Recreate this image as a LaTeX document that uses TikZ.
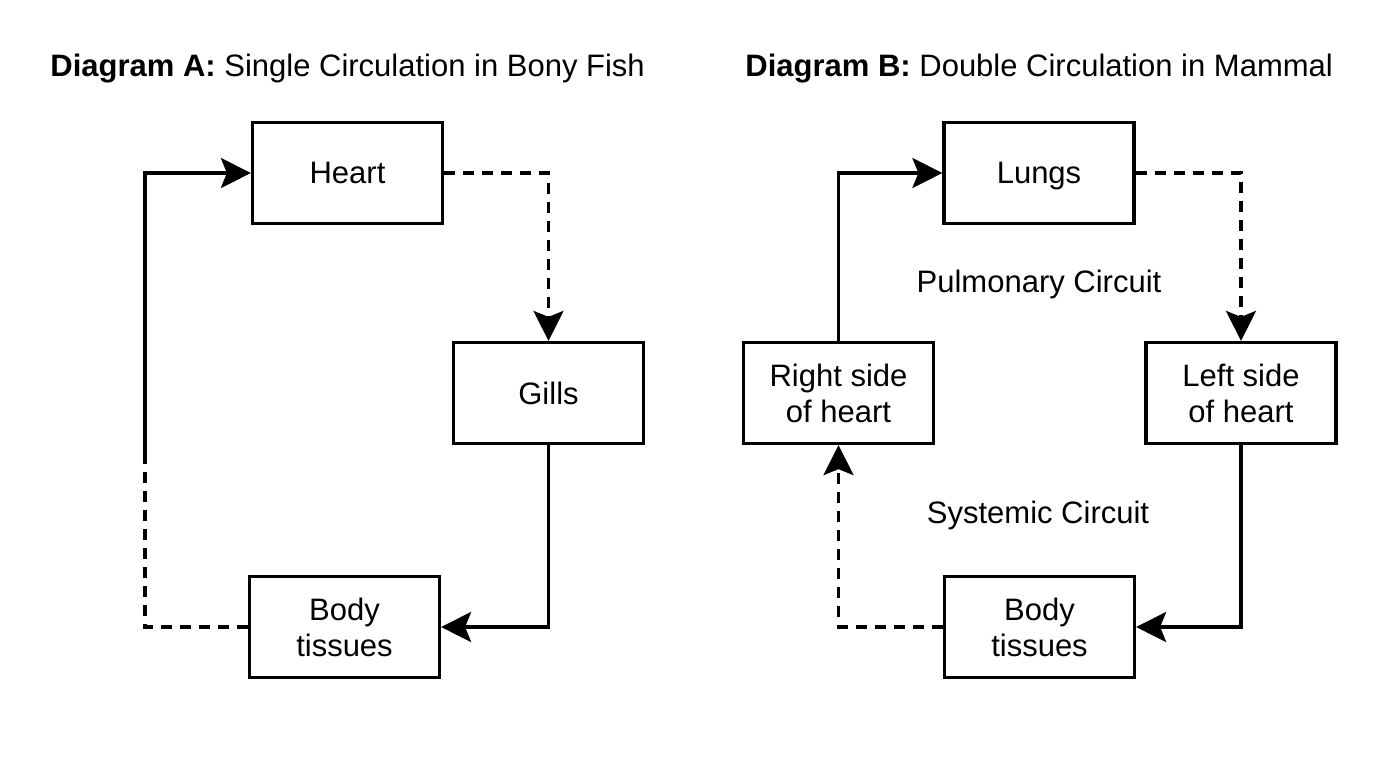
\documentclass[tikz,border=0pt]{standalone}
\usepackage{fontspec}
\setmainfont{Liberation Sans}
\usetikzlibrary{arrows.meta}
\tikzset{
  box/.style={draw, line width=1.6pt, minimum width=95pt, minimum height=50.5pt, inner sep=0pt, align=center, font=\fontsize{15.5}{18}\selectfont},
  lab/.style={font=\fontsize{15.5}{18}\selectfont, inner sep=0pt},
  conn/.style={line width=1.6pt},
  arr/.style={conn, -{Stealth[length=15pt,width=15pt,inset=3pt]}},
  dsh/.style={dash pattern=on 5.5pt off 4pt},
}
\begin{document}
\begin{tikzpicture}[x=0.5pt,y=-0.5pt]
\path[use as bounding box, fill=white] (0,0) rectangle (1376,768);
% titles
\node[lab, anchor=base west] (tA) at (50,76) {\textbf{Diagram A:} Single Circulation in Bony Fish};
\node[lab, anchor=base west] (tB) at (745,76) {\textbf{Diagram B:} Double Circulation in Mammal};
% diagram A
\node[box] (heartA) at (347.5,173) {Heart};
\node[box] (gills) at (548.5,393) {Gills};
\node[box] (bodyA) at (344.5,627) {Body\\tissues};
\draw[arr, dsh] (heartA.east) -| (gills.north);
\draw[arr] (gills.south) |- (bodyA.east);
\coordinate (mA) at (145,460);
\draw[conn, dsh] (bodyA.west) -| (mA);
\draw[arr] (mA) |- (heartA.west);
% diagram B
\node[box] (lungs) at (1039,173) {\raisebox{0pt}[\height][0pt]{Lungs}};
\node[box] (right) at (838.5,393) {Right side\\of heart};
\node[box] (left) at (1241,393) {Left side\\of heart};
\node[box] (bodyB) at (1039.5,627) {Body\\tissues};
\draw[arr, dsh] (lungs.east) -| (left.north);
\draw[arr] (left.south) |- (bodyB.east);
\draw[arr, dsh] (bodyB.west) -| (right.south);
\draw[arr] (right.north) |- (lungs.west);
\node[lab] (pulm) at (1039,284) {Pulmonary Circuit};
\node[lab] (sys) at (1038,515) {Systemic Circuit};
\end{tikzpicture}
\end{document}
